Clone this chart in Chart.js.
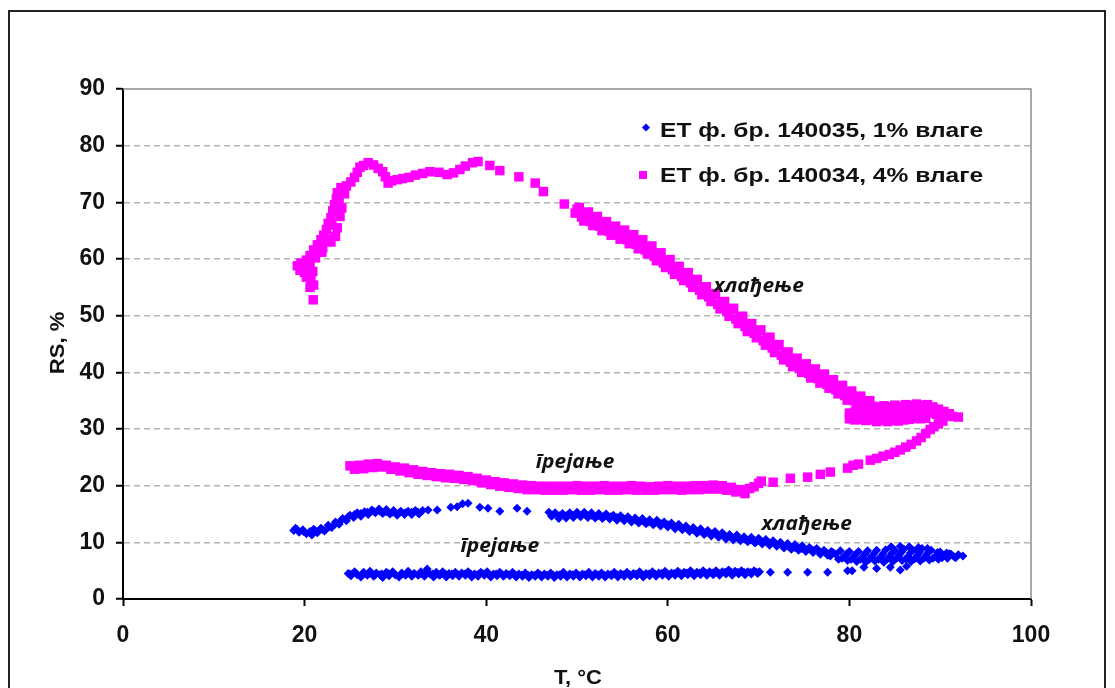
<!DOCTYPE html>
<html lang="sr">
<head>
<meta charset="utf-8">
<title>RS, %</title>
<script src="https://cdn.jsdelivr.net/npm/chart.js@4.4.1/dist/chart.umd.min.js"></script>
<style>
  html, body { margin: 0; padding: 0; background: #fff; }
  #chart { display: block; }
</style>
</head>
<body>
<canvas id="chart" width="1115" height="688"></canvas>
<script>
// osa i natpisi
const xTicks = [0, 20, 40, 60, 80, 100];
const yTicks = [0, 10, 20, 30, 40, 50, 60, 70, 80, 90];
const xTitle = "T, °C";
const yTitle = "RS, %";
const seriesNames = ["ЕТ ф. бр. 140035, 1% влаге", "ЕТ ф. бр. 140034, 4% влаге"];

// napomene na grafiku
const noteLabels = ["хлађење", "грејање", "хлађење", "грејање"];
const noteX = [70.0, 49.8, 75.3, 41.5];
const noteY = [55.3, 24.1, 13.2, 9.3];

// 1% vlage - grejanje (donja traka)
const rs1Heating = [
  [24.8,4.5],[25.1,4.1],[25.5,4.8],[25.8,4.3],[26.2,3.9],[26.5,4.7],[26.9,4.2],[27.2,4.9],[27.6,4.0],[27.9,4.6],
  [28.3,4.3],[28.6,3.8],[29.0,4.7],[29.3,4.1],[29.7,4.8],[30.0,4.3],[30.4,3.9],[30.7,4.6],[31.1,4.2],[31.4,4.9],
  [31.8,4.0],[32.1,4.5],[32.5,4.2],[32.8,4.8],[33.2,4.0],[33.5,5.3],[33.8,4.4],[34.2,3.9],[34.5,4.7],[34.9,4.2],
  [35.2,4.8],[35.6,3.9],[35.9,4.5],[36.3,4.1],[36.6,4.7],[37.0,4.0],[37.3,4.6],[37.7,4.2],[38.0,4.8],[38.4,3.9],
  [38.7,4.4],[39.1,4.0],[39.4,4.7],[39.8,4.2],[40.1,4.8],[40.5,3.9],[40.8,4.4],[41.2,4.1],[41.5,4.7],[41.9,4.0],
  [42.2,4.5],[42.6,4.1],[42.9,4.7],[43.3,3.9],[43.6,4.4],[44.0,4.0],[44.3,4.6],[44.7,3.8],[45.0,4.3],[45.4,4.0],
  [45.7,4.6],[46.1,3.9],[46.4,4.4],[46.8,4.0],[47.1,4.6],[47.5,3.8],[47.8,4.3],[48.2,4.0],[48.5,4.7],[48.9,3.9],
  [49.2,4.4],[49.6,4.0],[49.9,4.6],[50.3,3.9],[50.6,4.4],[51.0,4.1],[51.3,4.7],[51.7,3.9],[52.0,4.5],[52.4,4.0],
  [52.7,4.6],[53.1,3.9],[53.4,4.4],[53.8,4.1],[54.1,4.7],[54.5,3.9],[54.8,4.5],[55.2,4.0],[55.5,4.7],[55.9,4.0],
  [56.2,4.5],[56.6,4.1],[56.9,4.8],[57.3,3.9],[57.6,4.5],[58.0,4.1],[58.3,4.8],[58.7,4.0],[59.0,4.6],[59.4,4.2],
  [59.7,4.9],[60.1,4.0],[60.4,4.6],[60.8,4.2],[61.1,4.9],[61.5,4.1],[61.8,4.7],[62.2,4.3],[62.5,5.0],[62.9,4.1],
  [63.2,4.7],[63.6,4.3],[63.9,5.0],[64.3,4.2],[64.6,4.8],[65.0,4.3],[65.3,5.0],[65.7,4.2],[66.0,4.8],[66.4,4.4],
  [66.7,5.1],[67.1,4.2],[67.4,4.9],[67.8,4.4],[68.1,5.0],[68.5,4.3],[68.8,4.8],[69.2,4.4],[69.5,5.0],[69.9,4.5],
  [70.1,4.8],
  [25.0,4.4],[25.7,4.5],[26.4,4.4],[27.1,4.5],[27.8,4.3],[28.5,4.4],[29.2,4.5],[29.9,4.4],[30.6,4.3],[31.3,4.5],
  [32.0,4.4],[32.7,4.4],[33.4,4.6],[34.1,4.4],[34.8,4.3],[35.5,4.4],[36.2,4.4],[36.9,4.3],[37.6,4.4],[38.3,4.4],
  [39.0,4.3],[39.7,4.4],[40.4,4.3],[41.1,4.4],[41.8,4.3],[42.5,4.3],[43.2,4.3],[43.9,4.2],[44.6,4.2],[45.3,4.2],
  [46.0,4.2],[46.7,4.2],[47.4,4.2],[48.1,4.3],[48.8,4.2],[49.5,4.3],[50.2,4.2],[50.9,4.3],[51.6,4.2],[52.3,4.3],
  [53.0,4.2],[53.7,4.3],[54.4,4.3],[55.1,4.3],[55.8,4.3],[56.5,4.4],[57.2,4.3],[57.9,4.4],[58.6,4.4],[59.3,4.5],
  [60.0,4.4],[60.7,4.5],[61.4,4.5],[62.1,4.6],[62.8,4.5],[63.5,4.6],[64.2,4.6],[64.9,4.6],[65.6,4.6],[66.3,4.7],
  [67.0,4.7],[67.7,4.7],[68.4,4.7],[69.1,4.7],[69.8,4.7],
  [71.3,4.7],[73.2,4.7],[75.4,4.7],[77.6,4.7],[79.8,5.0],[80.3,5.0],[81.6,5.6],[83.0,5.4],[84.5,5.6],[85.6,5.1],
  [86.3,5.8]
];

// 1% vlage - hladjenje (oblak kod 80-92 pa gornja traka)
const rs1Cooling = [
  [92.5,7.6],[92.0,7.8],[91.5,7.5],[91.0,8.0],[90.8,7.2],[90.5,7.7],[90.0,8.3],[89.8,7.0],[89.5,7.6],[89.0,8.6],
  [88.8,6.9],[88.5,7.8],[88.0,8.9],[87.8,6.7],[87.5,7.7],[87.0,8.6],[86.8,6.6],[86.5,7.5],[86.0,8.8],[85.8,6.8],
  [85.5,7.8],[85.0,8.6],[84.8,6.6],[84.5,7.6],[84.0,8.7],[83.8,6.5],[83.5,7.5],[83.0,8.6],[82.8,6.7],[82.5,7.6],
  [82.0,8.5],[81.8,6.5],[81.5,7.4],[81.0,8.4],[80.8,6.6],[80.5,7.5],[80.0,8.4],[79.8,6.8],[79.5,7.6],[79.0,8.5],
  [78.8,7.0],[78.5,7.9],
  [91.7,7.3],[91.2,7.9],[90.7,8.1],[90.2,7.3],[89.7,8.2],[89.2,7.2],[88.7,8.3],[88.2,7.2],[87.7,8.2],[87.2,7.1],
  [86.7,8.1],[86.2,7.1],[85.7,8.2],[85.2,7.2],[84.7,8.1],[84.2,7.1],[83.7,8.0],[83.2,7.0],[82.7,8.0],[82.2,7.0],
  [81.7,7.9],[81.2,7.0],[80.7,7.9],[80.2,7.0],[79.7,8.0],[79.2,7.2],[78.2,8.2],[77.9,7.6],
  [84.6,9.2],[85.6,9.3],[86.6,9.2],[87.6,9.1],[88.6,8.9],
  [78.0,8.4],[77.6,7.7],[77.2,8.6],[76.8,7.9],[76.4,8.9],[76.0,8.2],[75.6,9.1],[75.2,8.4],[74.8,9.4],[74.4,8.6],
  [74.0,9.6],[73.6,8.8],[73.2,9.8],[72.8,9.0],[72.4,10.0],[72.0,9.3],[71.6,10.3],[71.2,9.5],[70.8,10.5],[70.4,9.7],
  [70.0,10.7],[69.6,9.9],[69.2,10.9],[68.8,10.1],[68.4,11.0],[68.0,10.3],[67.6,11.3],[67.2,10.4],[66.8,11.4],[66.4,10.6],
  [66.0,11.7],[65.6,10.9],[65.2,11.9],[64.8,11.1],[64.4,12.1],[64.0,11.4],[63.6,12.4],[63.2,11.6],[62.8,12.6],[62.4,11.9],
  [62.0,12.9],[61.6,12.2],[61.2,13.2],[60.8,12.4],[60.4,13.4],[60.0,12.7],[59.6,13.6],[59.2,12.9],[58.8,13.9],[58.4,13.1],
  [58.0,14.0],[57.6,13.3],[57.2,14.2],[56.8,13.4],[56.4,14.3],[56.0,13.6],[55.6,14.5],[55.2,13.8],[54.8,14.7],[54.4,13.9],
  [54.0,14.8],[53.6,14.1],[53.2,15.0],[52.8,14.2],[52.4,15.1],[52.0,14.3],[51.6,15.2],[51.2,14.4],[50.8,15.3],[50.4,14.5],
  [50.0,15.3],[49.6,14.4],[49.2,15.2],[48.8,14.3],[48.4,15.1],[48.0,14.2],[47.6,15.2],[47.2,14.6],[46.9,15.3],
  [47.4,14.9],[48.1,14.7],[48.8,14.7],[49.5,14.8],[50.2,14.9],[50.9,14.9],[51.6,14.8],[52.3,14.7],[53.0,14.6],[53.7,14.5],
  [54.4,14.4],[55.1,14.2],[55.8,14.1],[56.5,13.9],[57.2,13.8],[57.9,13.6],[58.6,13.5],[59.3,13.3],[60.0,13.1],[60.7,12.9],
  [61.4,12.7],[62.1,12.5],[62.8,12.2],[63.5,12.0],[64.2,11.7],[64.9,11.5],[65.6,11.3],[66.3,11.1],[67.0,10.9],[67.7,10.8],
  [68.4,10.6],[69.1,10.4],[69.8,10.2],[70.5,10.1],[71.2,9.9],[71.9,9.7],[72.6,9.5],[73.3,9.3],[74.0,9.1],[74.7,8.9],
  [75.4,8.8],[76.1,8.6],[76.8,8.3],[77.5,8.1],
  [44.5,15.5],[43.4,16.0],[41.5,15.5],[40.2,16.0],[39.3,16.2],[38.0,16.9],[37.4,16.8],[36.8,16.3],[36.1,16.2],[34.6,15.7],
  [33.6,15.7],
  [33.0,15.6],[32.6,15.0],[32.2,15.6],[31.8,14.9],[31.4,15.5],[31.0,14.9],[30.6,15.5],[30.2,14.8],[29.8,15.6],[29.4,15.0],
  [29.0,15.8],[28.6,15.1],[28.2,15.9],[27.8,15.2],[27.4,15.7],[27.0,14.9],[26.6,15.4],[26.2,14.6],[25.8,15.2],[25.4,14.4],
  [25.0,14.8],[24.6,13.8],[24.2,14.2],[23.8,13.2],[23.4,13.6],[23.0,12.6],[22.6,13.0],[22.2,12.0],[21.8,12.5],[21.4,11.7],
  [21.0,12.3],[20.8,11.3],[20.6,11.9],[20.2,11.5],[19.8,12.2],[19.4,11.8],[19.0,12.5],[18.8,12.1],
  [19.2,12.2],[19.9,11.9],[20.6,11.7],[21.3,11.9],[22.0,12.2],[22.7,12.7],[23.4,13.3],[24.1,14.0],[24.8,14.5],[25.5,14.9],
  [26.2,15.1],[26.9,15.3],[27.6,15.5],[28.3,15.5],[29.0,15.4],[29.7,15.3],[30.4,15.2],[31.1,15.2],[31.8,15.3],[32.5,15.3]
];

// 4% vlage - grejanje (donja traka, pa uspon do petlje)
const rs4Heating = [
  [25.0,23.5],[25.5,22.9],[26.0,23.6],[26.5,23.0],[27.0,23.8],[27.5,23.2],[28.0,23.9],[28.5,23.3],[29.0,23.6],[29.5,22.9],
  [30.0,23.3],[30.5,22.6],[31.0,23.1],[31.5,22.3],[32.0,22.8],[32.5,22.0],[33.0,22.5],[33.5,21.8],[34.0,22.3],[34.5,21.6],
  [35.0,22.1],[35.5,21.4],[36.0,22.0],[36.5,21.3],[37.0,21.8],[37.5,21.1],[38.0,21.6],[38.5,20.9],[39.0,21.3],[39.5,20.5],
  [40.0,21.0],[40.5,20.2],[41.0,20.7],[41.5,19.9],[42.0,20.5],[42.5,19.7],[43.0,20.3],[43.5,19.5],[44.0,20.1],[44.5,19.3],
  [45.0,20.0],[45.5,19.3],[46.0,19.9],[46.5,19.2],[47.0,19.9],[47.5,19.2],[48.0,19.9],[48.5,19.2],[49.0,19.9],[49.5,19.3],
  [50.0,20.0],[50.5,19.2],[51.0,19.9],[51.5,19.2],[52.0,19.9],[52.5,19.3],[53.0,20.0],[53.5,19.2],[54.0,19.9],[54.5,19.2],
  [55.0,19.9],[55.5,19.3],[56.0,20.0],[56.5,19.2],[57.0,19.9],[57.5,19.2],[58.0,19.8],[58.5,19.2],[59.0,19.9],[59.5,19.3],
  [60.0,20.0],[60.5,19.3],[61.0,19.9],[61.5,19.2],[62.0,19.9],[62.5,19.3],[63.0,20.0],[63.5,19.3],[64.0,20.0],[64.5,19.4],
  [65.0,20.1],[65.5,19.4],[66.0,20.0],[66.5,19.2],[67.0,19.7],[67.5,18.9],[68.0,19.3],[68.5,18.6],[69.0,19.5],[69.5,19.8],
  [70.0,20.4],[70.3,20.8],
  [71.6,20.6],[73.5,21.3],[75.4,21.5],[76.8,22.0],[77.9,22.4],[79.8,23.1],[80.4,23.6],[81.0,23.8],[82.3,24.5],[83.0,24.8],
  [83.7,25.2],[84.4,25.5],[85.0,25.9],[85.6,26.3],[86.2,26.8],[86.8,27.3],[87.4,27.9],[87.9,28.5],[88.4,29.2],[88.9,29.9],
  [89.3,30.4],[89.8,30.9],[90.3,31.4]
];

// 4% vlage - hladjenje (petlja, silazna traka, vrh i pocetak)
const rs4Cooling = [
  [82.6,34.0],[83.2,33.9],[83.8,34.1],[84.4,33.9],[85.0,34.2],[85.6,34.0],[86.2,34.3],[86.8,34.2],[87.4,34.4],[88.0,34.2],
  [88.6,34.3],[89.2,33.9],[89.8,33.5],[90.4,33.1],[91.0,32.7],
  [80.0,32.8],[80.6,33.0],[81.2,32.9],[81.8,33.0],[82.4,32.8],[83.0,32.9],[83.6,32.7],[84.2,32.9],[84.8,32.8],[85.4,33.0],
  [86.0,32.9],[86.6,33.1],[87.2,33.0],[87.8,33.2],[88.4,33.0],[89.0,32.8],[89.6,32.6],[90.2,32.4],[90.8,32.3],[91.4,32.2],
  [92.0,32.1],
  [80.0,31.8],[80.6,31.6],[81.2,31.7],[81.8,31.5],[82.4,31.6],[83.0,31.3],[83.6,31.5],[84.2,31.3],[84.8,31.5],[85.4,31.4],
  [86.0,31.6],[86.6,31.7],[87.2,31.9],[87.8,31.8],[88.4,31.9],
  [82.5,33.8],[82.0,34.7],[81.5,34.1],[81.0,35.5],[80.5,35.0],[80.0,36.4],[79.5,35.9],[79.0,37.4],[78.5,36.9],[78.0,38.4],
  [77.5,37.9],[77.0,39.4],[76.5,38.9],[76.0,40.3],[75.5,39.8],[75.0,41.2],[74.5,40.7],[74.0,42.2],[73.5,41.8],[73.0,43.4],
  [72.5,43.0],[72.0,44.7],[71.5,44.3],[71.0,46.0],[70.5,45.6],[70.0,47.3],[69.5,46.9],[69.0,48.4],[68.5,48.1],[68.0,49.7],
  [67.5,49.4],[67.0,51.1],[66.5,50.7],[66.0,52.3],[65.5,52.0],[65.0,53.7],[64.5,53.3],[64.0,54.9],[63.5,54.5],[63.0,56.2],
  [62.5,55.8],[62.0,57.4],[61.5,56.9],[61.0,58.5],[60.5,58.1],[60.0,59.7],[59.5,59.3],[59.0,60.9],[58.5,60.5],[58.0,62.1],
  [57.5,61.6],[57.0,63.1],[56.5,62.6],[56.0,64.0],[55.5,63.4],[55.0,64.8],[54.5,64.2],[54.0,65.5],[53.5,64.9],[53.0,66.3],
  [52.5,65.8],[52.0,67.2],[51.5,66.6],[51.0,68.0],[50.5,67.4],[50.0,68.8],
  [50.25,69.1],[50.75,66.7],[51.25,68.3],[51.75,65.9],[52.25,67.5],[52.75,65.0],[53.25,66.6],[53.75,64.2],[54.25,65.8],[54.75,63.5],
  [55.25,65.1],[55.75,62.7],[56.25,64.3],[56.75,61.8],[57.25,63.4],[57.75,60.9],[58.25,62.3],[58.75,59.7],[59.25,61.1],[59.75,58.5],
  [60.25,59.9],[60.75,57.3],[61.25,58.7],[61.75,56.2],[62.25,57.6],[62.75,55.0],[63.25,56.4],[63.75,53.7],[64.25,55.1],[64.75,52.5],
  [65.25,53.9],[65.75,51.2],[66.25,52.5],[66.75,49.9],[67.25,51.3],[67.75,48.6],[68.25,49.9],[68.75,47.2],[69.25,48.6],[69.75,46.1],
  [70.25,47.5],[70.75,44.8],[71.25,46.2],[71.75,43.5],[72.25,44.9],[72.75,42.2],[73.25,43.6],[73.75,41.0],[74.25,42.5],[74.75,40.0],
  [75.25,41.5],[75.75,39.0],[76.25,40.6],[76.75,38.1],[77.25,39.7],[77.75,37.2],[78.25,38.7],[78.75,36.2],[79.25,37.7],[79.75,35.1],
  [80.25,36.7],[80.75,34.2],[81.25,35.8],[81.75,33.4],[82.25,35.0],
  [49.8,68.1],[48.6,69.7],[46.3,71.9],[45.4,73.4],[43.6,74.5],[41.5,75.6],[40.4,76.5],[39.1,77.2],[38.5,77.0],[37.7,76.4],
  [37.1,75.8],[36.4,75.2],[35.7,74.9],[34.8,75.3],[33.8,75.4],[33.0,75.1],[32.2,74.8],[31.5,74.4],[30.8,74.2],[30.2,74.0],
  [29.6,73.8],[29.2,73.4],[28.9,74.5],[28.6,75.4],[28.1,76.0],[27.6,76.6],[27.0,77.0],[26.5,76.5],[26.1,76.2],[25.8,75.3],
  [25.5,74.4],[25.1,73.6],[24.6,72.9],[24.0,72.6],[23.6,71.7],[23.5,70.6],[23.3,69.6],[23.1,68.5],[22.9,67.3],[22.6,66.3],
  [22.4,65.2],[22.1,64.2],[21.8,63.4],[21.4,62.5],[21.0,61.6],[20.6,60.6],[20.2,59.8],[19.6,59.3],[19.2,58.8],[19.5,58.0],
  [20.0,57.6],[20.4,57.0],[20.7,56.2],[21.0,55.4],[20.6,55.0],[20.95,52.8],[23.8,70.0],[23.0,66.0],[22.4,63.5],[22.0,62.0],
  [23.6,65.5],[23.9,67.5],[24.1,69.0],[23.4,64.0],[22.9,63.0],[21.9,61.2],[21.2,60.2],[20.6,58.8],[20.2,56.8],[19.9,58.6],
  [20.9,57.8],[24.4,71.5]
];

const blue = "#0000ff";
const magenta = "#ff00ff";
const labelFont = "'Liberation Sans', Arial, sans-serif";
const noteFont = "'Open Sans', sans-serif";

function toPoints(pairs) {
  return pairs.map(([x, y]) => ({ x, y }));
}

// tekst malo razvucen po sirini
function stretchText(ctx, text, x, y, font, align, sx, angle = 0) {
  ctx.save();
  ctx.translate(x, y);
  ctx.rotate(angle);
  ctx.scale(sx, 1);
  ctx.font = font;
  ctx.textAlign = align;
  ctx.textBaseline = "alphabetic";
  ctx.fillText(text, 0, 0);
  ctx.restore();
}

const frame = {
  id: "frame",
  beforeDatasetsDraw(chart) {
    const { ctx, chartArea: a } = chart;
    ctx.save();
    ctx.strokeStyle = "#8c8c8c";
    ctx.lineWidth = 1.5;
    ctx.beginPath();
    ctx.moveTo(a.left, a.top);
    ctx.lineTo(a.right, a.top);
    ctx.lineTo(a.right, a.bottom);
    ctx.stroke();
    ctx.restore();
  },
  afterDraw(chart) {
    const { ctx, scales } = chart;
    ctx.save();

    // okvir cele slike
    ctx.strokeStyle = "#222";
    ctx.lineWidth = 2;
    ctx.strokeRect(9, 11, 1096, 720);

    ctx.fillStyle = "#111";
    stretchText(ctx, xTitle, 578, 684, "bold 20px " + labelFont, "center", 1.1);
    stretchText(ctx, yTitle, 64, 343, "bold 21px " + labelFont, "center", 1.05, -Math.PI / 2);

    // legenda
    ctx.fillStyle = blue;
    ctx.beginPath();
    ctx.moveTo(646, 123.5);
    ctx.lineTo(650, 127.5);
    ctx.lineTo(646, 131.5);
    ctx.lineTo(642, 127.5);
    ctx.closePath();
    ctx.fill();
    ctx.fillStyle = magenta;
    ctx.fillRect(639, 171, 8, 8);
    ctx.fillStyle = "#111";
    stretchText(ctx, seriesNames[0], 660, 137, "bold 21px " + labelFont, "left", 1.17);
    stretchText(ctx, seriesNames[1], 660, 182, "bold 21px " + labelFont, "left", 1.17);

    // napomene
    noteLabels.forEach((t, i) => {
      const px = scales.x.getPixelForValue(noteX[i]);
      const py = scales.y.getPixelForValue(noteY[i]);
      stretchText(ctx, t, px, py + 6, "italic bold 19px " + noteFont, "center", 1.1);
    });
    ctx.restore();
  },
};

new Chart(document.getElementById("chart"), {
  type: "scatter",
  data: {
    datasets: [
      {
        label: seriesNames[0],
        data: toPoints(rs1Heating.concat(rs1Cooling)),
        pointStyle: "rectRot",
        pointRadius: 4.5,
        pointBackgroundColor: blue,
        pointBorderWidth: 0,
      },
      {
        label: seriesNames[1],
        data: toPoints(rs4Heating.concat(rs4Cooling)),
        pointStyle: "rect",
        pointRadius: 6.7,
        pointBackgroundColor: magenta,
        pointBorderWidth: 0,
      },
    ],
  },
  options: {
    responsive: false,
    animation: false,
    devicePixelRatio: 1,
    layout: { padding: { left: 0, top: 89, right: 84, bottom: 0 } },
    plugins: { legend: { display: false }, tooltip: { enabled: false } },
    scales: {
      x: {
        type: "linear",
        min: 0,
        max: 100,
        afterFit: (s) => { s.height = 89; },
        afterBuildTicks: (s) => { s.ticks = xTicks.map((v) => ({ value: v })); },
        grid: { drawOnChartArea: false, tickLength: 7, tickWidth: 2, tickColor: "#000" },
        border: { color: "#000", width: 2 },
        ticks: { color: "#111", padding: 16, font: { family: labelFont, size: 23, weight: "bold" } },
      },
      y: {
        type: "linear",
        min: 0,
        max: 90,
        afterFit: (s) => { s.width = 123; },
        afterBuildTicks: (s) => { s.ticks = yTicks.map((v) => ({ value: v })); },
        grid: {
          color: (c) => (c.tick && (c.tick.value === 0 || c.tick.value === 90) ? "rgba(0,0,0,0)" : "#b4b4b4"),
          lineWidth: 1.5,
          tickLength: 7,
          tickWidth: 2,
          tickColor: "#000",
        },
        border: { color: "#000", width: 2, dash: [6, 4] },
        ticks: { color: "#111", padding: 11, font: { family: labelFont, size: 23, weight: "bold" } },
      },
    },
  },
  plugins: [frame],
});
</script>
</body>
</html>
